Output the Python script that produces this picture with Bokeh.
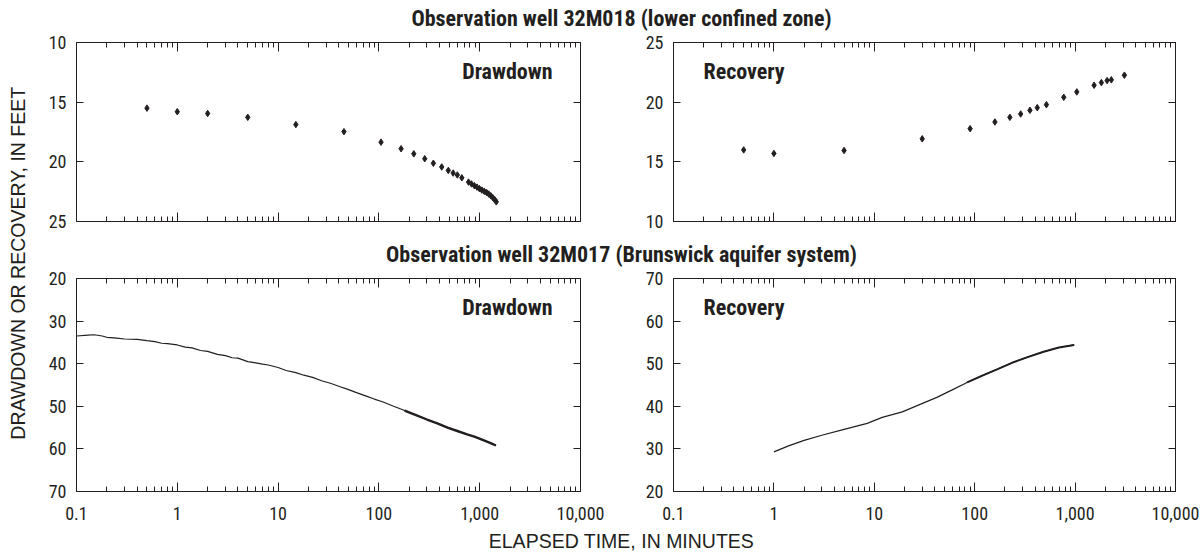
import math
from bokeh.plotting import figure
from bokeh.models import (Range1d, LogAxis, LinearAxis, FixedTicker, Label,
                          CustomJSTickFormatter, ColumnDataSource)
from bokeh.layouts import row, column
from bokeh.embed import file_html
from bokeh.resources import INLINE

# ---------------- data ----------------
x_major = [0.1, 1, 10, 100, 1000, 10000]
x_tick_labels = ["0.1", "1", "10", "100", "1,000", "10,000"]
x_minor = [m * 10.0 ** e for e in range(-1, 4) for m in range(2, 10)]

y_ticks_top = [10, 15, 20, 25]
y_ticks_bottom = [20, 30, 40, 50, 60, 70]

# Observation well 32M018 - drawdown (symbols)
t_dd_018 = [0.5, 1, 2, 5, 15, 45, 105, 166, 222, 285, 347, 420, 488, 545, 600,
            665, 775, 830, 885, 940, 995, 1050, 1110, 1170, 1230, 1290, 1350, 1410, 1460]
dd_018 = [15.5, 15.8, 15.95, 16.27, 16.88, 17.47, 18.35, 18.9, 19.33, 19.74, 20.12,
          20.43, 20.72, 20.94, 21.1, 21.34, 21.7, 21.85, 22.0, 22.12, 22.25, 22.37,
          22.47, 22.57, 22.7, 22.85, 23.0, 23.18, 23.35]

# Observation well 32M018 - recovery (symbols)
t_rec_018 = [0.5, 1, 5, 30, 90, 159, 224, 287, 355, 420, 518, 771, 1040, 1546,
             1827, 2084, 2296, 3098]
rec_018 = [16.0, 15.7, 15.95, 16.93, 17.78, 18.34, 18.73, 19.01, 19.32, 19.54,
           19.79, 20.41, 20.86, 21.42, 21.64, 21.81, 21.87, 22.26]

# Observation well 32M017 - drawdown (line)
t_dd_017 = [0.1, 0.13, 0.15, 0.18, 0.2, 0.25, 0.3, 0.4, 0.5, 0.6, 0.7, 0.8, 1.0,
            1.2, 1.4, 1.7, 2.0, 2.5, 3.0, 3.5, 4, 5, 6, 7, 8, 10, 12, 15, 18, 22,
            27, 33, 40, 50, 60, 75, 90, 110, 140, 180, 230, 300, 380, 480, 600,
            750, 900, 1100, 1300, 1450]
dd_017 = [33.5, 33.3, 33.2, 33.5, 33.8, 34.0, 34.2, 34.3, 34.6, 34.8, 35.2, 35.3,
          35.6, 36.1, 36.3, 36.9, 37.1, 37.8, 38.1, 38.6, 38.7, 39.5, 39.8, 40.1,
          40.3, 40.9, 41.6, 42.1, 42.7, 43.2, 44.0, 44.6, 45.3, 46.1, 46.8, 47.6,
          48.3, 49.0, 50.0, 51.0, 52.0, 53.1, 54.0, 55.0, 55.8, 56.6, 57.2, 58.0,
          58.7, 59.2]

# Observation well 32M017 - recovery (line)
t_rec_017 = [1.0, 1.4, 2.0, 3.0, 5.0, 8.5, 12, 19, 29, 42, 59, 84, 119, 169, 241,
             342, 486, 690, 980]
rec_017 = [29.3, 30.7, 32.0, 33.2, 34.6, 36.0, 37.4, 38.7, 40.5, 42.1, 43.8, 45.6,
           47.2, 48.7, 50.3, 51.6, 52.8, 53.8, 54.4]

title_top = "Observation well 32M018 (lower confined zone)"
title_bottom = "Observation well 32M017 (Brunswick aquifer system)"
x_label = "ELAPSED TIME, IN MINUTES"
y_label = "DRAWDOWN OR RECOVERY,  IN FEET"

# ---------------- style ----------------
NARROW = "Roboto Condensed"
REG = "Liberation Sans"
INK = "#231f20"


def text_fig(w, h):
    f = figure(width=w, height=h, x_range=Range1d(0, w), y_range=Range1d(0, h),
               min_border=0, x_axis_location=None, y_axis_location=None, title=None,
               toolbar_location=None, output_backend="svg")
    f.outline_line_color = None
    f.grid.visible = False
    return f


def hide_labels(ax):
    ax.major_label_text_font_size = "1px"
    ax.major_label_text_alpha = 0
    ax.major_label_standoff = 0


def panel(fw, fh, mbl, mbr, mbt, mbb, y_range, y_ticks, show_x_labels, tag, tag_side):
    p = figure(x_axis_type="log", x_range=Range1d(0.1, 10000), y_range=y_range,
               frame_width=fw, frame_height=fh,
               min_border_left=mbl, min_border_right=mbr,
               min_border_top=mbt, min_border_bottom=mbb,
               x_axis_location=None, y_axis_location=None, title=None,
               toolbar_location=None, output_backend="svg")
    p.grid.visible = False
    p.outline_line_color = INK
    p.outline_line_width = 1

    for loc in ("below", "above"):
        ax = LogAxis(ticker=FixedTicker(ticks=x_major, minor_ticks=x_minor))
        ax.axis_line_color = INK
        ax.major_tick_line_color = INK
        ax.minor_tick_line_color = INK
        ax.major_tick_in = 9
        ax.major_tick_out = 0
        ax.minor_tick_in = 5
        ax.minor_tick_out = 0
        if loc == "below" and show_x_labels:
            ax.formatter = CustomJSTickFormatter(
                args=dict(vals=x_major, labs=x_tick_labels),
                code="""
                for (let i = 0; i < vals.length; i++) {
                  if (Math.abs(Math.log10(tick) - Math.log10(vals[i])) < 1e-6) return labs[i];
                }
                return "";
                """)
            ax.major_label_text_font = NARROW
            ax.major_label_text_font_size = "18px"
            ax.major_label_text_color = INK
            ax.major_label_standoff = 15
        else:
            hide_labels(ax)
        p.add_layout(ax, loc)

    for loc in ("left", "right"):
        ax = LinearAxis(ticker=FixedTicker(ticks=y_ticks))
        ax.axis_line_color = INK
        ax.major_tick_line_color = INK
        ax.minor_tick_line_color = None
        ax.major_tick_in = 7
        ax.major_tick_out = 0
        if loc == "left":
            ax.major_label_text_font = NARROW
            ax.major_label_text_font_size = "18px"
            ax.major_label_text_color = INK
            ax.major_label_standoff = 10
        else:
            hide_labels(ax)
        p.add_layout(ax, loc)

    if tag_side == "right":
        lab = Label(x=fw - 28, y=fh - 29, x_units="screen", y_units="screen",
                    text=tag, text_align="right", text_baseline="middle")
    else:
        lab = Label(x=30, y=fh - 29, x_units="screen", y_units="screen",
                    text=tag, text_align="left", text_baseline="middle")
    lab.text_font = NARROW
    lab.text_font_style = "bold"
    lab.text_font_size = "22px"
    lab.text_color = INK
    p.add_layout(lab)
    return p


# ---------------- panels ----------------
p1 = panel(504, 179, 48, 46, 11, 18, Range1d(25, 10), y_ticks_top, False, "Drawdown", "right")
p1.scatter(t_dd_018, dd_018, marker="diamond", size=6.5, color=INK)

p2 = panel(502, 179, 47, 26, 11, 18, Range1d(10, 25), y_ticks_top, False, "Recovery", "left")
p2.scatter(t_rec_018, rec_018, marker="diamond", size=6.5, color=INK)

p3 = panel(504, 213, 48, 46, 11, 37, Range1d(70, 20), y_ticks_bottom, True, "Drawdown", "right")
src_dd = ColumnDataSource(dict(t=t_dd_017, v=dd_017))
p3.line("t", "v", source=src_dd, color=INK, line_width=1.2)
late = [i for i, t in enumerate(t_dd_017) if t >= 150]
p3.line([t_dd_017[i] for i in late], [dd_017[i] for i in late], color=INK, line_width=2.4)

p4 = panel(502, 213, 47, 26, 11, 37, Range1d(20, 70), y_ticks_bottom, True, "Recovery", "left")
p4.line(t_rec_017, rec_017, color=INK, line_width=1.2)
late_r = [i for i, t in enumerate(t_rec_017) if t >= 80]
p4.line([t_rec_017[i] for i in late_r], [rec_017[i] for i in late_r], color=INK, line_width=1.9)

# ---------------- texts ----------------
W = 598 + 575
t1 = text_fig(W, 31)
t1.add_layout(Label(x=593, y=13.5, text=title_top, text_align="center", text_baseline="alphabetic",
                    text_font=NARROW, text_font_style="bold", text_font_size="22px", text_color=INK))
t2 = text_fig(W, 28)
t2.add_layout(Label(x=593, y=13, text=title_bottom, text_align="center", text_baseline="alphabetic",
                    text_font=NARROW, text_font_style="bold", text_font_size="22px", text_color=INK))
xl = text_fig(W, 24)
xl.add_layout(Label(x=593, y=12, text=x_label, text_align="center", text_baseline="alphabetic",
                    text_font=REG, text_font_size="19.5px", text_color=INK))
yl = text_fig(28, 552)
yl.add_layout(Label(x=17, y=292, text=y_label, angle=math.pi / 2, text_align="center",
                    text_baseline="middle", text_font=REG, text_font_size="19.5px", text_color=INK))

layout = row(yl, column(t1, row(p1, p2), t2, row(p3, p4), xl))

open("out.html", "w").write(file_html(layout, INLINE))
